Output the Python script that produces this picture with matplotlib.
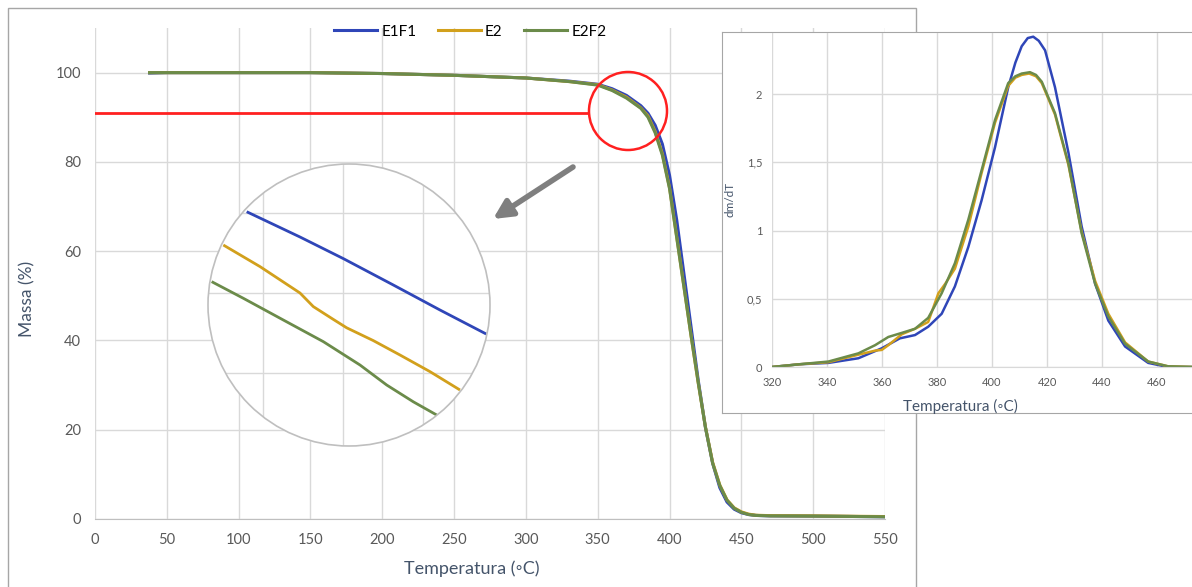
import matplotlib
matplotlib.use("Agg")
import matplotlib.pyplot as plt
from matplotlib.patches import Circle, Rectangle

plt.rcParams["font.family"] = ["Lato", "DejaVu Sans"]

# ---- TGA (main chart) ----
temp = [38, 50, 100, 150, 200, 250, 300, 330, 350, 360, 370, 380, 385, 390, 395,
        400, 405, 410, 415, 420, 425, 430, 435, 440, 445, 450, 455, 460, 470, 500, 550]
mass_e1f1 = [99.9, 100, 100, 100, 99.8, 99.4, 98.8, 98.1, 97.4, 96.4, 94.9, 92.6, 90.9, 88.2, 84.0,
             77.0, 67.0, 55.0, 43.0, 31.0, 20.5, 12.5, 7.0, 3.8, 2.2, 1.4, 1.0, 0.8, 0.7, 0.65, 0.5]
mass_e2 = [100, 100, 100, 100, 99.8, 99.4, 98.8, 98.0, 97.3, 96.1, 94.5, 92.1, 90.3, 86.8, 81.8,
           74.2, 63.2, 52.1, 41.0, 30.4, 20.6, 12.7, 7.6, 4.3, 2.5, 1.6, 1.1, 0.85, 0.75, 0.7, 0.55]
mass_e2f2 = [100, 100, 100, 100, 99.8, 99.4, 98.8, 98.0, 97.2, 96.0, 94.3, 92.0, 90.0, 86.5, 81.5,
             74.0, 63.0, 52.0, 41.0, 30.5, 20.5, 12.5, 7.5, 4.2, 2.4, 1.5, 1.0, 0.8, 0.7, 0.65, 0.5]

# ---- DTG (inset) ----
dtg_t_e1f1 = [320, 330, 340.5, 351.4, 359.9, 366.5, 372, 376.8, 381.7, 386.5, 391.4, 396.2, 401.1,
              405.9, 408.5, 410.8, 413, 415, 417, 419.3, 422.9, 427.8, 432.6, 437.5, 442.3, 448.4,
              456.8, 464, 473]
dtg_e1f1 = [0.0, 0.02, 0.03, 0.064, 0.137, 0.21, 0.234, 0.295, 0.39, 0.59, 0.88, 1.22, 1.61,
            2.05, 2.23, 2.35, 2.41, 2.42, 2.39, 2.32, 2.05, 1.57, 1.03, 0.61, 0.34, 0.15,
            0.03, 0.0, 0.0]
dtg_t_e2 = [320, 330, 340.5, 351.4, 357.5, 359.9, 362.3, 367.2, 372, 376.8, 380.5, 383, 386.5, 391.4,
            396.2, 401.1, 405.9, 408.5, 410.8, 413.5, 416, 418.1, 422.9, 427.8, 432.6, 437.5, 442.3,
            448.4, 456.8, 464, 473]
dtg_e2 = [0.0, 0.02, 0.035, 0.09, 0.12, 0.125, 0.16, 0.24, 0.28, 0.33, 0.54, 0.61, 0.72, 1.03,
          1.42, 1.79, 2.06, 2.12, 2.14, 2.15, 2.13, 2.08, 1.85, 1.48, 0.99, 0.63, 0.39, 0.18,
          0.04, 0.005, 0.0]
dtg_t_e2f2 = [320, 330, 340.5, 351.4, 357.5, 362.3, 367.2, 372, 376.8, 381.7, 386.5, 391.4, 396.2,
              401.1, 405.9, 408.5, 410.8, 413.8, 416, 418.1, 422.9, 427.8, 432.6, 437.5, 442.3,
              448.4, 456.8, 464, 473]
dtg_e2f2 = [0.0, 0.02, 0.04, 0.10, 0.16, 0.22, 0.25, 0.28, 0.36, 0.54, 0.76, 1.08, 1.44,
            1.81, 2.08, 2.13, 2.15, 2.16, 2.14, 2.09, 1.86, 1.49, 0.98, 0.61, 0.37, 0.17,
            0.04, 0.005, 0.0]

# ---- magnified detail (circle), arbitrary local units ----
mag_x_e1f1 = [0.796, 1.4625, 2.004, 2.629, 3.2125, 3.79]
mag_y_e1f1 = [3.016, 2.70, 2.43, 2.10, 1.7875, 1.4875]
mag_x_e2 = [0.504, 0.9625, 1.4625, 1.629, 1.879, 2.046, 2.379, 2.7125, 3.0875, 3.4625]
mag_y_e2 = [2.60, 2.33, 2.00, 1.83, 1.67, 1.565, 1.405, 1.225, 1.017, 0.7875]
mag_x_e2f2 = [0.358, 0.754, 1.254, 1.754, 2.2125, 2.546, 2.879, 3.171]
mag_y_e2f2 = [2.142, 1.934, 1.6625, 1.392, 1.10, 0.85, 0.64, 0.475]

labels = ["E1F1", "E2", "E2F2"]
colors = ["#2f46b8", "#d2a01c", "#6b8b4a"]
label_color = "#44546a"
tick_color = "#595959"
grid_color = "#d9d9d9"

W, H = 1192, 587
fig = plt.figure(figsize=(W / 100, H / 100), dpi=100)

# outer chart frame
fig.add_artist(Rectangle((8, -10), 908, H - 8 + 10, transform=None, fill=False,
                         edgecolor="#a6a6a6", lw=1))

# main axes
ax = fig.add_axes([95 / W, 68 / H, 790 / W, 491 / H])
ax.plot(temp, mass_e1f1, color=colors[0], lw=2.2, label=labels[0], zorder=3)
ax.plot(temp, mass_e2, color=colors[1], lw=2.2, label=labels[1], zorder=3)
ax.plot(temp, mass_e2f2, color=colors[2], lw=2.2, label=labels[2], zorder=3)
ax.plot([0, 343], [91, 91], color="#ff2020", lw=2, zorder=3)
ax.set_xlim(0, 550)
ax.set_ylim(0, 110)
ax.set_xticks(range(0, 551, 50))
ax.set_yticks(range(0, 101, 20))
ax.grid(True, color=grid_color, lw=1)
ax.set_axisbelow(True)
ax.tick_params(length=0, colors=tick_color, labelsize=10.5, pad=10)
for s in ["top", "right", "left"]:
    ax.spines[s].set_visible(False)
ax.spines["bottom"].set_color("#bfbfbf")
ax.set_xlabel("Temperatura (◦C)", color=label_color, fontsize=13)
ax.xaxis.set_label_coords((472 - 95) / 790, -0.085)
ax.set_ylabel("Massa (%)", color=label_color, fontsize=12.5)
ax.yaxis.set_label_coords(-0.076, (519 - 299) / 491)
ax.legend(loc="upper center", bbox_to_anchor=(0.475, 1.035), ncol=3, frameon=False,
          fontsize=11, handlelength=2.8, columnspacing=1.4, handletextpad=0.3)

# red highlight circle and grey arrow
fig.add_artist(Circle((6.28, (H - 111) / 100), 0.39, transform=fig.dpi_scale_trans,
                      fill=False, edgecolor="#ff2020", lw=1.8, zorder=5))
ax.annotate("", xy=(493, H - 219), xytext=(573, H - 167), xycoords="figure pixels",
            textcoords="figure pixels",
            arrowprops=dict(arrowstyle="-|>", color="#7f7f7f", lw=4, mutation_scale=28,
                            shrinkA=0, shrinkB=0))

# magnifier
mag = fig.add_axes([208 / W, (H - 446) / H, 282 / W, 282 / H], zorder=4)
mag.set_xlim(0.3125, 3.8375)
mag.set_ylim(0.0875, 3.6125)
mag.axis("off")
disc = Circle((0.5, 0.5), 0.5, transform=mag.transAxes, facecolor="white",
              edgecolor="none", zorder=0)
mag.add_patch(disc)
for g in [1, 2, 3]:
    l1 = mag.axvline(g, color=grid_color, lw=1, zorder=1)
    l2 = mag.axhline(g, color=grid_color, lw=1, zorder=1)
    l1.set_clip_path(disc)
    l2.set_clip_path(disc)
for xs, ys, c in [(mag_x_e1f1, mag_y_e1f1, colors[0]), (mag_x_e2, mag_y_e2, colors[1]),
                  (mag_x_e2f2, mag_y_e2f2, colors[2])]:
    ln, = mag.plot(xs, ys, color=c, lw=2, zorder=2, solid_capstyle="butt",
                   solid_joinstyle="round")
    ln.set_clip_path(disc)
mag.add_patch(Circle((0.5, 0.5), 0.5, transform=mag.transAxes, fill=False,
                     edgecolor="#bfbfbf", lw=1.2, zorder=3, clip_on=False))

# inset frame
frame = fig.add_axes([722 / W, (H - 413) / H, 490 / W, 381 / H], zorder=5)
frame.set_xticks([])
frame.set_yticks([])
for s in frame.spines.values():
    s.set_color("#a6a6a6")

# inset DTG
ins = fig.add_axes([772 / W, (H - 367) / H, 440 / W, 334.4 / H], zorder=6)
ins.patch.set_alpha(0)
ins.plot(dtg_t_e1f1, dtg_e1f1, color=colors[0], lw=1.8)
ins.plot(dtg_t_e2, dtg_e2, color=colors[1], lw=1.8)
ins.plot(dtg_t_e2f2, dtg_e2f2, color=colors[2], lw=1.8)
ins.set_xlim(320, 480)
ins.set_ylim(0, 2.45)
ins.set_xticks(range(320, 461, 20))
ins.set_yticks([0, 0.5, 1, 1.5, 2])
ins.set_yticklabels(["0", "0,5", "1", "1,5", "2"])
ins.grid(True, color=grid_color, lw=1)
ins.set_axisbelow(True)
ins.tick_params(length=0, colors=tick_color, labelsize=8, pad=7)
for s in ["top", "right", "left"]:
    ins.spines[s].set_visible(False)
ins.spines["bottom"].set_color("#d9d9d9")
ins.set_xlabel("Temperatura (◦C)", color=label_color, fontsize=11)
ins.xaxis.set_label_coords((960 - 772) / 440, -0.095)
ins.set_ylabel("dm/dT", color=label_color, fontsize=8.5, labelpad=8)

fig.savefig("out.png", dpi=100)
